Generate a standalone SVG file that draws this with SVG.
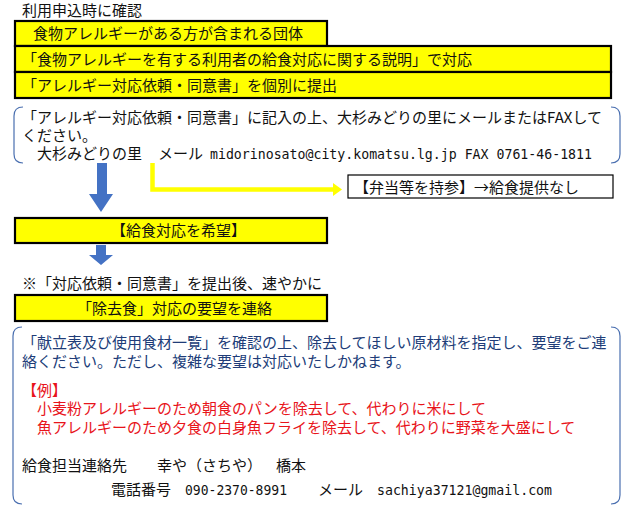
<svg xmlns="http://www.w3.org/2000/svg" width="637" height="513" viewBox="0 0 637 513">
<defs>
<style>
text{font-family:"Noto Sans CJK JP","Noto Sans",sans-serif;font-size:15px;fill:#111}
.mono{font-family:"DejaVu Sans Mono","Liberation Mono",monospace;font-size:14.5px}
.ybox{fill:#FFFF00;stroke:#000;stroke-width:2.2}
.wbox{fill:#fff;stroke:#000;stroke-width:1.2}
.brk{fill:none;stroke:#4A6FB0;stroke-width:1.2}
.blue{fill:#203C78}
.red{fill:#E8141B}
.barrow{fill:#4472C4}
</style>
</defs>
<rect width="637" height="513" fill="#fff"/>
<g id="title"><text x="22" y="15.5">利用申込時に確認</text></g>
<g id="box1"><rect class="ybox" x="15" y="21" width="312" height="25"/><text x="33" y="39">食物アレルギーがある方が含まれる団体</text></g>
<g id="box2"><rect class="ybox" x="15" y="46" width="596" height="26"/><text x="22" y="64.5">「食物アレルギーを有する利用者の給食対応に関する説明」で対応</text></g>
<g id="box3"><rect class="ybox" x="15" y="72" width="596" height="26"/><text x="22" y="90.5">「アレルギー対応依頼・同意書」を個別に提出</text></g>
<g id="panel1">
<path class="brk" d="M23,107 Q14,107 14,116 L14,154 Q14,163 23,163"/>
<path class="brk" d="M611,107 Q620,107 620,116 L620,154 Q620,163 611,163"/>
<text x="22" y="122.5">「アレルギー対応依頼・同意書」に記入の上、大杉みどりの里にメールまたはFAXして</text>
<text x="22" y="140.5">ください。</text>
<text x="37" y="158.5">大杉みどりの里</text>
<text x="158" y="158.5">メール</text>
<text class="mono" x="210" y="158.5" textLength="382" lengthAdjust="spacingAndGlyphs">midorinosato@city.komatsu.lg.jp FAX 0761-46-1811</text>
</g>
<g id="connectors">
<path class="barrow" d="M97,163 L107,163 L107,194 L113,194 L101,212 L89,194 L97,194 Z"/>
<path d="M152.5,163 L152.5,189.5 L334,189.5" fill="none" stroke="#FFFF00" stroke-width="4.5"/>
<path d="M333,183 L342,189.5 L333,196 Z" fill="#FFFF00"/>
<path class="barrow" d="M96,245 L106,245 L106,255 L113,255 L101,265 L89,255 L96,255 Z"/>
</g>
<g id="bento"><rect class="wbox" x="348" y="175" width="265" height="23"/><text x="354" y="192.5">【弁当等を持参】→給食提供なし</text></g>
<g id="kibou"><rect class="ybox" x="15" y="218" width="312" height="25"/><text x="111" y="236">【給食対応を希望】</text></g>
<g id="note"><text x="22" y="288.5">※「対応依頼・同意書」を提出後、速やかに</text></g>
<g id="jokyo"><rect class="ybox" x="15" y="295" width="312" height="26"/><text x="77" y="313.5">「除去食」対応の要望を連絡</text></g>
<g id="panel2">
<path class="brk" d="M22,327 Q13,327 13,336 L13,495 Q13,504 22,504"/>
<path class="brk" d="M611,327 Q620,327 620,336 L620,495 Q620,504 611,504"/>
<text class="blue" x="22" y="348">「献立表及び使用食材一覧」を確認の上、除去してほしい原材料を指定し、要望をご連</text>
<text class="blue" x="22" y="366.5">絡ください。ただし、複雑な要望は対応いたしかねます。</text>
<text class="red" x="22" y="395.5">【例】</text>
<text class="red" x="37" y="413.5">小麦粉アレルギーのため朝食のパンを除去して、代わりに米にして</text>
<text class="red" x="37" y="432.5">魚アレルギーのため夕食の白身魚フライを除去して、代わりに野菜を大盛にして</text>
<text x="22" y="470.5">給食担当連絡先</text>
<text x="157" y="470.5">幸や（さちや）</text>
<text x="276" y="470.5">橋本</text>
<text x="111" y="494.5">電話番号</text>
<text class="mono" x="185" y="494.5" textLength="102" lengthAdjust="spacingAndGlyphs">090-2370-8991</text>
<text x="318" y="494.5">メール</text>
<text class="mono" x="377" y="494.5" textLength="175" lengthAdjust="spacingAndGlyphs">sachiya37121@gmail.com</text>
</g>
</svg>
